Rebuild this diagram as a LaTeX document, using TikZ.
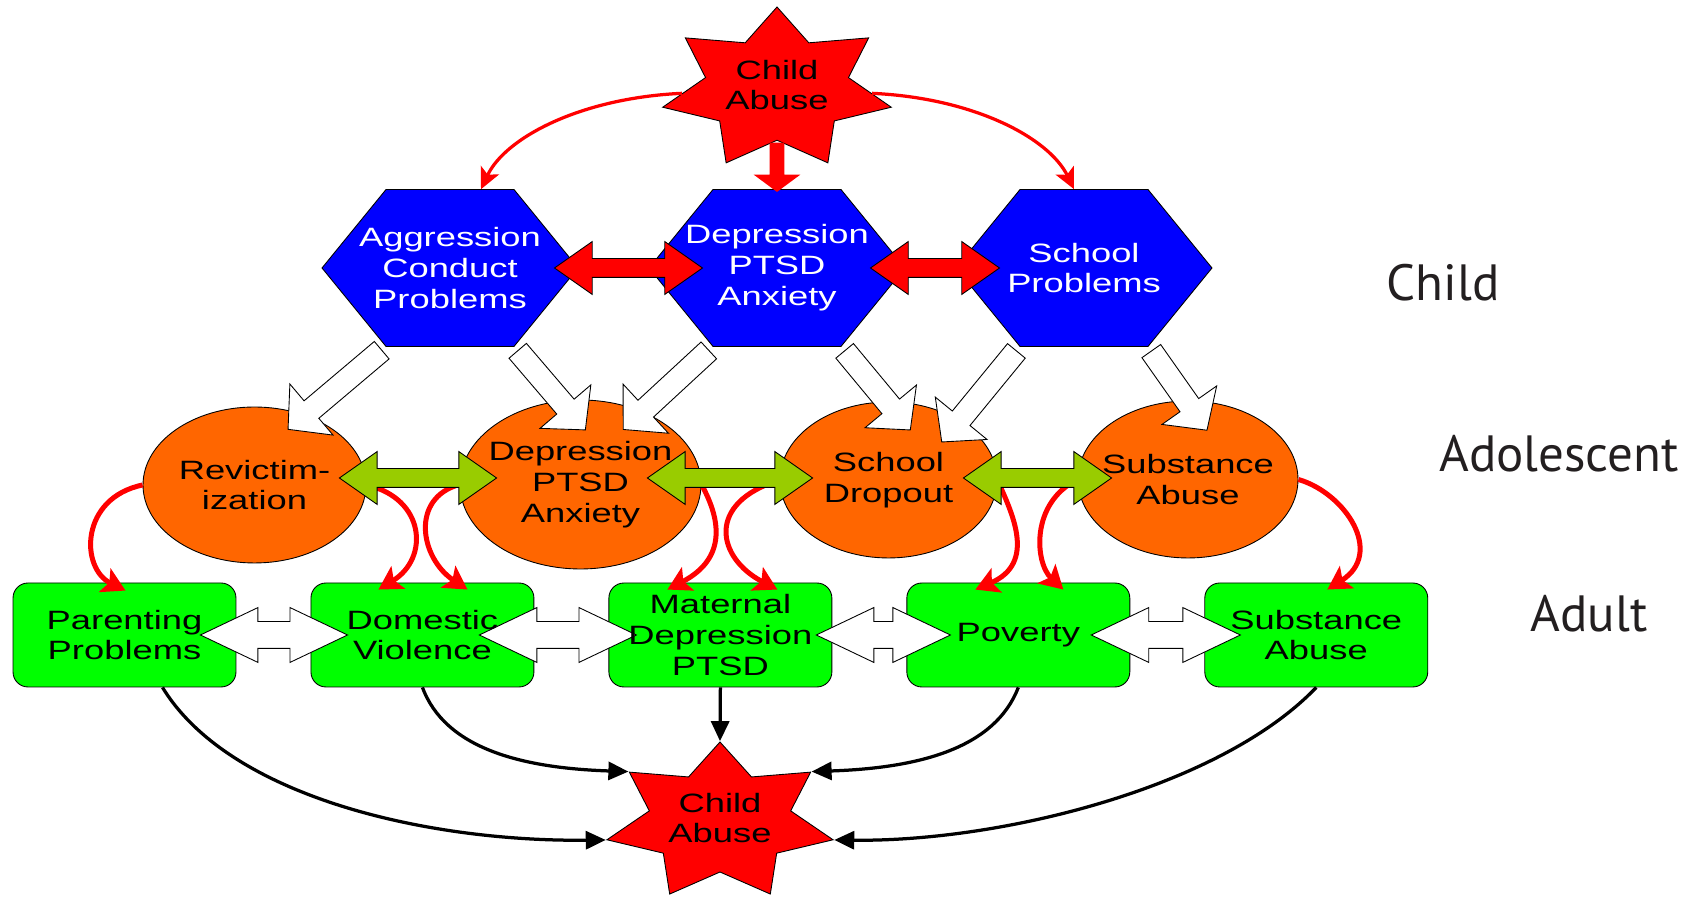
\documentclass[tikz,border=0pt]{standalone}
\usepackage{fontspec}
\setmainfont{Liberation Sans}[FakeStretch=1.37]
\newfontfamily\agefont{PT Sans}
\usetikzlibrary{shapes.geometric, shapes.arrows, arrows.meta, calc, positioning}

\definecolor{abusered}{HTML}{FF0000}
\definecolor{childblue}{HTML}{0000FF}
\definecolor{teenorange}{HTML}{FF6600}
\definecolor{adultgreen}{HTML}{00FF00}
\definecolor{linkgreen}{HTML}{99CC00}
\definecolor{agegray}{HTML}{231F20}

\pgfdeclarelayer{front}
\pgfsetlayers{main,front}

\tikzset{
  abuse/.style={star, star points=7, star point ratio=1.6, draw=black, line width=0.5pt, fill=abusered, inner sep=0pt},
  childhex/.style={regular polygon, regular polygon sides=6, minimum size=5.12cm, yscale=0.708, draw=black, line width=0.5pt, fill=childblue, inner sep=0pt},
  teen/.style={ellipse, draw=black, line width=0.5pt, fill=teenorange, inner sep=0pt},
  adult/.style={rectangle, rounded corners=0.3cm, minimum width=4.46cm, minimum height=2.08cm, draw=black, line width=0.5pt, fill=adultgreen},
  boxtext/.style={align=center, font=\fontsize{15.1}{17.6}\selectfont},
  agelabel/.style={text=agegray, font=\agefont\fontsize{29}{35}\selectfont},
  redlink/.style={double arrow, draw=black, line width=0.5pt, fill=abusered, inner xsep=0pt, inner ysep=0.18cm, double arrow head extend=0.34cm, double arrow tip angle=70},
  greenlink/.style={redlink, fill=linkgreen},
  adultlink/.style={double arrow, draw=black, line width=0.5pt, fill=white, inner xsep=0pt, inner ysep=0.26cm, double arrow head extend=0.28cm, double arrow tip angle=51},
  leadsto/.style={single arrow, draw=black, line width=0.5pt, fill=white, inner xsep=0pt, inner ysep=0.22cm, single arrow head extend=0.44cm, single arrow tip angle=95},
  causes/.style={single arrow, fill=abusered, inner xsep=0pt, inner ysep=0.14cm, single arrow head extend=0.32cm, single arrow tip angle=107},
  topcurve/.style={draw=abusered, line width=0.065cm, -{Stealth[length=0.42cm, width=0.4cm, inset=0.1cm]}},
  teencurve/.style={draw=abusered, line width=0.1cm, -{Stealth[length=0.46cm, width=0.52cm, inset=0.1cm]}},
  adultcurve/.style={draw=black, line width=0.065cm, -{Triangle[length=0.4cm, width=0.36cm]}}
}

% block arrow node stretched from #3 to #4
\newcommand\blockarrow[4]{%
  \path let \p1=(#3), \p2=(#4),
    \n1={atan2(\y2-\y1,\x2-\x1)}, \n2={veclen(\x2-\x1,\y2-\y1)} in
    node[#1, rotate=\n1, minimum height=\n2] (#2) at ($(\p1)!0.5!(\p2)$) {};}

\begin{document}
\begin{tikzpicture}[x=0.02cm, y=0.02cm, node distance=5.96cm, on grid]
  \useasboundingbox (0,0) rectangle (1694,898);

  % adult row
  \node[adult] (ba) at (124.5,263) {};
  \node[adult] (bb) [right=of ba] {};
  \node[adult] (bc) [right=of bb] {};
  \node[adult] (bd) [right=of bc] {};
  \node[adult] (be) [right=of bd] {};

  \node[abuse, minimum size=3.2cm, xscale=1.45] (abuse2) at (720,76) {};
  \draw[adultcurve] (bc.south) -- (abuse2.outer point 1);
  \draw[adultcurve] ($(ba.south)+(38,0)$) .. controls (230,100) and (430,56) .. (abuse2.outer point 3);
  \draw[adultcurve] (bb.south) .. controls (445,150) and (520,130) .. (abuse2.outer point 2);
  \draw[adultcurve] (bd.south) .. controls (995,150) and (920,130) .. (abuse2.outer point 7);
  \draw[adultcurve] (be.south) .. controls (1220,110) and (1000,56) .. (abuse2.outer point 6);

  % adolescent row
  \node[teen, minimum width=4.46cm, minimum height=3.12cm] (ea) at (254.5,413) {};
  \node[teen, minimum width=4.82cm, minimum height=3.38cm] (eb) at (580.5,413.5) {};
  \node[teen, minimum width=4.34cm, minimum height=3.12cm] (ec) at (888.5,418) {};
  \node[teen, minimum width=4.40cm, minimum height=3.14cm] (ed) at (1188,418.5) {};

  \draw[teencurve] (ea.west) .. controls (80,400) and (80,330) .. ($(ba.north)+(1,-8)$);
  \draw[teencurve] (ea.east) .. controls (425,400) and (430,340) .. ($(bb.north)+(-44,-7)$);
  \draw[teencurve] (eb.west) .. controls (410,400) and (420,340) .. ($(bb.north)+(45,-7)$);
  \draw[teencurve] (eb.east) .. controls (720,380) and (728,340) .. ($(bc.north)+(-53,-7)$);
  \draw[teencurve] (ec.west) .. controls (705,395) and (717,340) .. ($(bc.north)+(57,-7)$);
  \draw[teencurve] (ec.east) .. controls (1012,385) and (1037,335) .. ($(bd.north)+(-43,-7)$);
  \draw[teencurve] (ed.west) .. controls (1030,395) and (1035,335) .. ($(bd.north)+(45,-7)$);
  \draw[teencurve] (ed.east) .. controls (1345,405) and (1385,345) .. ($(be.north)+(11,-7)$);

  \blockarrow{greenlink}{gab}{$(ea.east)+(-27,7)$}{$(eb.west)+(37,6.5)$}
  \blockarrow{greenlink}{gbc}{$(eb.east)+(-54,6.5)$}{$(ec.west)+(33,2)$}
  \blockarrow{greenlink}{gcd}{$(ec.east)+(-34,2)$}{$(ed.west)+(34,1.5)$}

  \blockarrow{adultlink}{wab}{$(ba.east)+(-36,0)$}{$(bb.west)+(37,0)$}
  \blockarrow{adultlink}{wbc}{$(bb.east)+(-55,0)$}{$(bc.west)+(28,0)$}
  \blockarrow{adultlink}{wcd}{$(bc.east)+(-16,0)$}{$(bd.west)+(44,0)$}
  \blockarrow{adultlink}{wde}{$(bd.east)+(-39,0)$}{$(be.west)+(36,0)$}

  % child row
  \begin{pgfonlayer}{front}
  \node[childhex] (ha) at (450,630) {};
  \node[childhex] (hb) at (777,630) {};
  \node[childhex] (hc) at (1084,630) {};
  \end{pgfonlayer}

  \blockarrow{leadsto}{la1}{ha.240}{$(ea)+(37.5,59)$}
  \blockarrow{leadsto}{la2}{ha.300}{$(eb)+(1.5,58.5)$}
  \blockarrow{leadsto}{lb1}{hb.240}{$(eb)+(46.5,58.5)$}
  \blockarrow{leadsto}{lb2}{hb.300}{$(ec)+(18.5,54)$}
  \blockarrow{leadsto}{lc1}{hc.240}{$(ec)+(56.5,42)$}
  \blockarrow{leadsto}{lc2}{hc.300}{$(ed)+(16,53.5)$}

  \begin{pgfonlayer}{front}
  \node[abuse, minimum size=3.28cm, xscale=1.43] (abuse1) at (777,809) {};
  \draw[topcurve] (abuse1) .. controls (580,800) and (505,760) .. ($(ha.north)+(31,0)$);
  \draw[topcurve] (abuse1) .. controls (974,800) and (1049,760) .. ($(hc.north)+(-10,0)$);
  \blockarrow{causes}{down}{$(abuse1)+(0,-51)$}{hb.north}
  \blockarrow{redlink}{rab}{$(ha.east)+(-24,0)$}{$(hb.west)+(54,0)$}
  \blockarrow{redlink}{rbc}{$(hb.east)+(-35,0)$}{$(hc.west)+(44,0)$}

  % texts
  \node[boxtext] (abuse1-t) at (777,813) {Child\\Abuse};
  \node[boxtext] (abuse2-t) at (720,80) {Child\\Abuse};
  \node[boxtext, text=white] (ha-t) at (ha) {Aggression\\Conduct\\Problems};
  \node[boxtext, text=white] (hb-t) at (hb) {Depression\\PTSD\\Anxiety};
  \node[boxtext, text=white] (hc-t) at (hc) {School\\Problems};
  \node[boxtext] (ea-t) at (ea) {Revictim-\\ization};
  \node[boxtext] (eb-t) at (eb) {Depression\\PTSD\\Anxiety};
  \node[boxtext] (ec-t) at (ec) {School\\Dropout};
  \node[boxtext] (ed-t) at (ed) {Substance\\Abuse};
  \node[boxtext] (ba-t) at (ba) {Parenting\\Problems};
  \node[boxtext] (bb-t) at (bb) {Domestic\\Violence};
  \node[boxtext] (bc-t) at (bc) {Maternal\\Depression\\PTSD};
  \node[boxtext] (bd-t) at (bd) {Poverty};
  \node[boxtext] (be-t) at (be) {Substance\\Abuse};
  \end{pgfonlayer}

  \node[agelabel] (age-child) at (1443,615) {Child};
  \node[agelabel] (age-teen) at (1559,444) {Adolescent};
  \node[agelabel] (age-adult) at (1589,284) {Adult};
\end{tikzpicture}
\end{document}
